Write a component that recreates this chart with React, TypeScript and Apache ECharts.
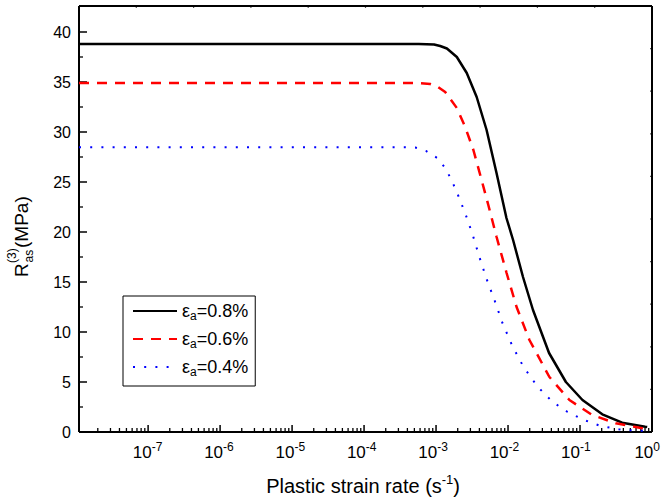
import { useEffect, useRef } from 'react';
import * as echarts from 'echarts';

// legend entries (axial strain εa) and their line colours
const strainLabels = ['0.8%', '0.6%', '0.4%'];
const lineColors = ['#000000', '#ff0000', '#0000ff'];

// x values are log10 of the plastic strain rate (s^-1)
const lgRate08 = [-7.96, -4.0, -3.4, -3.2, -2.986, -2.9, -2.806, -2.667, -2.528, -2.389, -2.25, -2.111, -1.972, -1.879, -1.74, -1.6, -1.375, -1.139, -0.907, -0.629, -0.351, -0.028, 0];
const rAs08 = [38.8, 38.8, 38.8, 38.79, 38.75, 38.6, 38.35, 37.5, 35.9, 33.5, 30.2, 25.9, 21.4, 19.2, 15.5, 12.2, 7.9, 5.0, 3.2, 1.77, 0.93, 0.53, 0.5];

const lgRate06 = [-7.96, -4.0, -3.385, -3.2, -3.04, -2.93, -2.83, -2.667, -2.55, -2.435, -2.32, -2.226, -2.11, -1.97, -1.83, -1.65, -1.37, -1.09, -0.77, -0.44, -0.07, 0];
const rAs06 = [34.9, 34.9, 34.9, 34.88, 34.8, 34.5, 34.0, 32.4, 30.5, 28.2, 25.2, 22.7, 19.5, 15.9, 12.5, 9.2, 5.5, 3.2, 1.7, 0.87, 0.37, 0.33];

const lgRate04 = [-7.96, -4.0, -3.4, -3.25, -3.097, -2.935, -2.82, -2.736, -2.667, -2.607, -2.551, -2.444, -2.351, -2.25, -2.135, -2.028, -1.889, -1.732, -1.532, -1.324, -1.115, -0.885, -0.653, -0.398, -0.143, 0];
const rAs04 = [28.47, 28.47, 28.47, 28.45, 28.1, 27.37, 26.3, 25.1, 24.0, 22.9, 21.9, 19.7, 17.5, 15.3, 13.1, 10.9, 8.6, 6.5, 4.5, 3.0, 2.0, 1.2, 0.6, 0.27, 0.13, 0.1];

// axis ranges and tick values
const xMin = -7.96;
const xMax = 0;
const yMin = 0;
const yMax = 42.6;
const xDecades = [-7, -6, -5, -4, -3, -2, -1, 0];
const minorMultipliers = [2, 3, 4, 5, 6, 7, 8, 9];
const yMajor = [0, 5, 10, 15, 20, 25, 30, 35, 40];
const yMinor = [2.5, 7.5, 12.5, 17.5, 22.5, 27.5, 32.5, 37.5];
// the top and right frame axes are plain 0..10 scales
const frameTicks = [1, 2, 3, 4, 5, 6, 7, 8, 9];

const FONT = 'Liberation Sans, Arial, sans-serif';

// plot area in the 663 x 504 canvas
const W = 663;
const H = 504;
const G = { left: 79, right: 11, top: 6, bottom: 72 };

const zip = (xs: number[], ys: number[]) => xs.map((x, i) => [x, ys[i]]);

// minor ticks of a log axis: log10(k * 10^n)
const xMinor: number[] = [];
for (let n = -8; n < 0; n++) {
  for (const k of minorMultipliers) {
    const v = n + Math.log10(k);
    if (v > xMin) xMinor.push(v);
  }
}

const yNameGraphic = {
  type: 'group',
  x: 21,
  y: 277,
  rotation: Math.PI / 2,
  children: [
    { type: 'text', x: 0, y: 0, style: { text: 'R', fontSize: 19, fontFamily: FONT, fill: '#000', align: 'left', verticalAlign: 'middle' } },
    { type: 'text', x: 14, y: -9, style: { text: '(3)', fontSize: 12, fontFamily: FONT, fill: '#000', align: 'left', verticalAlign: 'middle' } },
    { type: 'text', x: 14.5, y: 8, style: { text: 'as', fontSize: 12, fontFamily: FONT, fill: '#000', align: 'left', verticalAlign: 'middle' } },
    { type: 'text', x: 29, y: 0, style: { text: '(MPa)', fontSize: 19, fontFamily: FONT, fill: '#000', align: 'left', verticalAlign: 'middle' } },
  ],
};

// frame and inward ticks, mapped with the same linear scales as the grid
function frameGraphics() {
  const L = G.left;
  const R = W - G.right;
  const T = G.top;
  const B = H - G.bottom;
  const px = (v: number) => L + ((v - xMin) / (xMax - xMin)) * (R - L);
  const py = (v: number) => B - ((v - yMin) / (yMax - yMin)) * (B - T);
  const pxTop = (v: number) => L + (v / 10) * (R - L);
  const pyRight = (v: number) => B - (v / 10) * (B - T);
  const seg = (x1: number, y1: number, x2: number, y2: number, w: number, c = '#000') => ({
    type: 'line',
    silent: true,
    shape: { x1, y1, x2, y2 },
    style: { stroke: c, lineWidth: w },
  });
  return [
    ...xDecades.map((v) => seg(px(v), B, px(v), B - 7, 1.5)),
    ...xMinor.map((v) => seg(px(v), B, px(v), B - 4, 1.3)),
    ...yMajor.map((v) => seg(L, py(v), L + 8, py(v), 1.5)),
    ...yMinor.map((v) => seg(L, py(v), L + 4, py(v), 1.3)),
    ...frameTicks.map((v) => seg(pxTop(v), T, pxTop(v), T + 2, 1.2, '#555')),
    ...frameTicks.map((v) => seg(R, pyRight(v), R - 2, pyRight(v), 1.2, '#555')),
    seg(L, B, R, B, 2),
    seg(L, T, L, B, 2),
    seg(L, T, R, T, 2),
    seg(R, T, R, B, 2),
  ];
}

export default function App() {
  const ref = useRef<HTMLDivElement>(null);

  useEffect(() => {
    document.body.style.margin = '0';
    if (!ref.current) return;
    const chart = echarts.init(ref.current, null, { renderer: 'svg' });

    const hiddenAxis = { axisLine: { show: false, onZero: false }, axisTick: { show: false }, axisLabel: { show: false }, splitLine: { show: false } };

    chart.setOption({
      animation: false,
      textStyle: { fontFamily: FONT, color: '#000' },
      grid: { ...G },
      legend: {
        left: 123,
        top: 296,
        orient: 'vertical',
        data: strainLabels,
        selectedMode: false,
        itemWidth: 44,
        itemHeight: 14,
        itemGap: 8,
        padding: [6, 7, 8, 9],
        borderColor: '#000',
        borderWidth: 1,
        itemStyle: { opacity: 0 },
        formatter: (name: string) => `{e|ε}{s|a}{e|=${name}}`,
        textStyle: {
          fontFamily: FONT,
          color: '#000',
          rich: {
            e: { fontSize: 18, lineHeight: 22, fontFamily: FONT, color: '#000' },
            s: { fontSize: 12, lineHeight: 10, verticalAlign: 'bottom', fontFamily: FONT, color: '#000' },
          },
        },
      },
      xAxis: [
        {
          type: 'value',
          min: xMin,
          max: xMax,
          position: 'bottom',
          axisLine: { show: false, onZero: false },
          splitLine: { show: false },
          axisTick: { show: false },
          axisLabel: {
            customValues: xDecades,
            margin: 9,
            formatter: (v: number) => `{b|10}{s|${v}}`,
            rich: {
              b: { fontSize: 17, lineHeight: 22, fontFamily: FONT, color: '#000' },
              s: { fontSize: 12, lineHeight: 11, verticalAlign: 'top', fontFamily: FONT, color: '#000' },
            },
          },
          name: '{n|Plastic strain rate (s}{s|-1}{n|)}',
          nameLocation: 'middle',
          nameGap: 41,
          nameTextStyle: {
            rich: {
              n: { fontSize: 20, lineHeight: 26, fontFamily: FONT, color: '#000' },
              s: { fontSize: 13, lineHeight: 13, verticalAlign: 'top', fontFamily: FONT, color: '#000' },
            },
          },
        },
        { type: 'value', min: 0, max: 10, interval: 1, position: 'top', ...hiddenAxis },
      ],
      yAxis: [
        {
          type: 'value',
          min: yMin,
          max: yMax,
          position: 'left',
          axisLine: { show: false, onZero: false },
          splitLine: { show: false },
          axisTick: { show: false },
          axisLabel: { customValues: yMajor, fontSize: 16, margin: 8, color: '#000', fontFamily: FONT },
        },
        { type: 'value', min: 0, max: 10, interval: 1, position: 'right', ...hiddenAxis },
      ],
      graphic: [yNameGraphic, ...frameGraphics()],
      series: [
        {
          name: strainLabels[0],
          type: 'line',
          data: zip(lgRate08, rAs08),
          symbol: 'none',
          lineStyle: { color: lineColors[0], width: 2.5 },
          itemStyle: { color: lineColors[0] },
        },
        {
          name: strainLabels[1],
          type: 'line',
          data: zip(lgRate06, rAs06),
          symbol: 'none',
          lineStyle: { color: lineColors[1], width: 2.5, type: [10, 8] },
          itemStyle: { color: lineColors[1] },
        },
        {
          name: strainLabels[2],
          type: 'line',
          data: zip(lgRate04, rAs04),
          symbol: 'none',
          lineStyle: { color: lineColors[2], width: 2, type: [2, 9.2] },
          itemStyle: { color: lineColors[2] },
        },
      ],
    });

    return () => chart.dispose();
  }, []);

  return <div ref={ref} style={{ width: W, height: H }} />;
}
